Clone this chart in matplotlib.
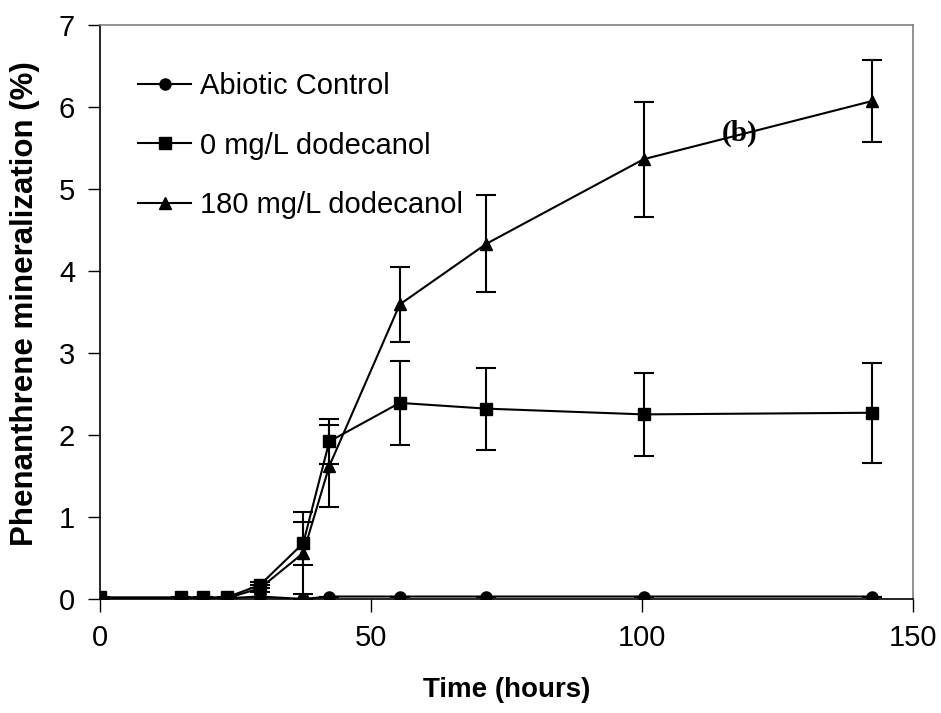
import matplotlib
matplotlib.use("Agg")
import matplotlib.pyplot as plt
from matplotlib.lines import Line2D

plt.rcParams['font.family'] = ['Liberation Sans', 'DejaVu Sans']

# sampling times (hours)
hours = [0, 15, 19, 23.4, 29.5, 37.5, 42.3, 55.3, 71.3, 100.3, 142.5]

# Phenanthrene mineralization (%)
abiotic = [0.01, 0.01, 0.01, 0.01, 0.03, 0.00, 0.03, 0.03, 0.03, 0.03, 0.03]
abiotic_err = [0, 0, 0, 0, 0, 0, 0, 0, 0, 0, 0]

dod_0 = [0.02, 0.02, 0.02, 0.02, 0.17, 0.68, 1.92, 2.39, 2.32, 2.25, 2.27]
dod_0_err = [0, 0, 0, 0, 0.04, 0.26, 0.27, 0.51, 0.50, 0.51, 0.61]

dod_180 = [0.00, 0.01, 0.01, 0.01, 0.13, 0.56, 1.62, 3.59, 4.33, 5.36, 6.07]
dod_180_err = [0, 0, 0, 0, 0.04, 0.50, 0.50, 0.46, 0.59, 0.70, 0.50]

labels = ['Abiotic Control', '0 mg/L dodecanol', '180 mg/L dodecanol']
markers = ['o', 's', '^']

fig = plt.figure(figsize=(9.41, 7.13), dpi=100)
ax = fig.add_axes([0.1063, 0.1599, 0.8639, 0.8055])

series = [(abiotic, abiotic_err), (dod_0, dod_0_err), (dod_180, dod_180_err)]
for (vals, err), m in zip(series, markers):
    ax.errorbar(hours, vals, yerr=err, color='black', marker=m, markersize=8,
                lw=1.5, elinewidth=1.5, capsize=7, capthick=1.5)

ax.set_xlim(0, 150)
ax.set_ylim(0, 7)
ax.set_xticks([0, 50, 100, 150])
ax.set_yticks(range(0, 8))
ax.tick_params(direction='out', length=9, width=1, labelsize=21, pad=9,
               top=False, right=False)

for side in ['top', 'right']:
    ax.spines[side].set_color('#7f7f7f')
    ax.spines[side].set_linewidth(1.2)
for side in ['left', 'bottom']:
    ax.spines[side].set_linewidth(1.2)

ax.set_xlabel('Time (hours)', fontsize=20, fontweight='bold', labelpad=18)
ax.set_ylabel('Phenanthrene mineralization (%)', fontsize=22.5, fontweight='bold')
ax.yaxis.set_label_coords(-0.074, 0.515)

handles = [Line2D([], [], color='black', marker=m, markersize=8, lw=1.5)
           for m in markers]
ax.legend(handles, labels, loc='upper left', frameon=False, fontsize=21,
          handlelength=1.8, handletextpad=0.3, labelspacing=1.08,
          bbox_to_anchor=(0.015, 0.963))

ax.text(118, 5.67, '(b)', fontsize=21, fontweight='bold',
        family=['Liberation Serif', 'DejaVu Serif'], ha='center', va='center')

fig.savefig('out.png', dpi=100)
